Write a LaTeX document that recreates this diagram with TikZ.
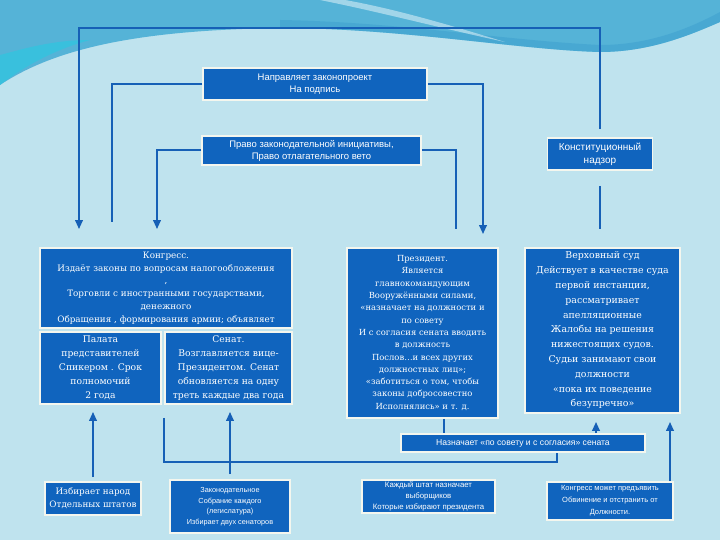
\documentclass[tikz,border=0pt]{standalone}
\usepackage{fontspec}
\setmainfont{DejaVu Serif}
\newfontfamily\sansf{Liberation Sans}
\usetikzlibrary{arrows.meta}
\definecolor{bgc}{HTML}{BFE3EE}
\definecolor{wavec}{HTML}{55B3D7}
\definecolor{wavedk}{HTML}{3C9FCF}
\definecolor{cyanc}{HTML}{33C4DF}
\definecolor{boxc}{HTML}{1064BE}
\definecolor{linec}{HTML}{1660B6}
\definecolor{edgec}{HTML}{F4F6EE}
\tikzset{
  box/.style={fill=boxc, draw=edgec, line width=1.8pt, text=white, align=center, inner sep=0pt},
  conn/.style={draw=linec, line width=2pt},
  arr/.style={conn, -{Triangle[length=9pt,width=7.5pt]}},
}
\newcommand{\fs}[2]{\fontsize{#1}{#2}\selectfont}
\begin{document}
\begin{tikzpicture}[x=1pt,y=-1pt]
\useasboundingbox (0,0) rectangle (720,540);
% background
\fill[bgc] (0,0) rectangle (720,540);
\fill[wavec] (0,0) -- (0,85) .. controls (60,45) and (150,30) .. (280,28)
  .. controls (400,28) and (520,50) .. (600,52)
  .. controls (650,52) and (690,35) .. (720,22) -- (720,0) -- cycle;
\fill[cyanc, opacity=0.8] (0,85) .. controls (30,62) and (60,48) .. (90,40)
  .. controls (50,40) and (20,50) .. (0,55) -- cycle;
\fill[wavedk, opacity=0.5] (280,20) .. controls (400,22) and (500,40) .. (600,45)
  .. controls (650,45) and (690,28) .. (720,12) -- (720,22)
  .. controls (690,35) and (650,52) .. (600,52)
  .. controls (520,50) and (400,28) .. (280,28) -- cycle;
\fill[white, opacity=0.45] (320,0) .. controls (380,12) and (440,28) .. (505,42)
  .. controls (440,22) and (390,8) .. (345,0) -- cycle;

% nodes
\node[box, minimum width=224pt, minimum height=32pt, font=\sansf\fs{9.5}{12}] (b1) at (315,84)
  {Направляет законопроект\\На подпись};
\node[box, minimum width=219pt, minimum height=29pt, font=\sansf\fs{9.5}{12}] (b2) at (311.5,150.5)
  {Право законодательной инициативы,\\Право отлагательного вето};
\node[box, minimum width=105pt, minimum height=32pt, font=\sansf\fs{10}{13}] (nadzor) at (600,154)
  {Конституционный\\надзор};
\node[box, minimum width=252pt, minimum height=80pt, font=\fs{8.8}{12.8}] (congress) at (166,288)
  {Конгресс.\\Издаёт законы по вопросам налогообложения\\,\\Торговли с иностранными государствами,\\денежного\\Обращения , формирования армии; объявляет};
\node[box, minimum width=121pt, minimum height=72pt, font=\fs{9.2}{14}] (palata) at (100.5,368)
  {Палата\\представителей\\Спикером . Срок\\полномочий\\2 года};
\node[box, minimum width=127pt, minimum height=72pt, font=\fs{9.2}{14}] (senate) at (228.5,368)
  {Сенат.\\Возглавляется вице-\\Президентом. Сенат\\обновляется на одну\\треть каждые два года};
\node[box, minimum width=151pt, minimum height=170pt, font=\fs{8.4}{12.3}] (president) at (422.5,333)
  {Президент.\\Является\\главнокомандующим\\Вооружёнными силами,\\«назначает на должности и\\по совету\\И с согласия сената вводить\\в должность\\Послов…и всех других\\должностных лиц»;\\«заботиться о том, чтобы\\законы добросовестно\\Исполнялись» и т. д.};
\node[box, minimum width=155pt, minimum height=165pt, font=\fs{9.4}{14.8}] (supreme) at (602.5,330.5)
  {Верховный суд\\Действует в качестве суда\\первой инстанции,\\рассматривает\\апелляционные\\Жалобы на решения\\нижестоящих судов.\\Судьи занимают свои\\должности\\«пока их поведение\\безупречно»};
\node[box, minimum width=244pt, minimum height=18pt, font=\sansf\fs{8.6}{10}] (naznach) at (523,443)
  {Назначает «по совету и с согласия» сената};
\node[box, minimum width=96pt, minimum height=33pt, font=\fs{8.8}{13}] (izb) at (93,498.5)
  {Избирает народ\\Отдельных штатов};
\node[box, minimum width=120pt, minimum height=53pt, font=\sansf\fs{7.3}{10.5}] (zakon) at (230,506.5)
  {Законодательное\\Собрание каждого\\(легислатура)\\Избирает двух сенаторов};
\node[box, minimum width=133pt, minimum height=33pt, font=\sansf\fs{7.8}{11}] (shtat) at (428.5,496.5)
  {Каждый штат назначает\\выборщиков\\Которые избирают президента};
\node[box, minimum width=126pt, minimum height=38pt, font=\sansf\fs{7.5}{12}] (kongr2) at (610,501)
  {Конгресс может предъявить\\Обвинение и отстранить от\\Должности.};

% helper coordinates
\coordinate (tl) at (79,28);
\coordinate (xL1) at (112,0);
\coordinate (xL2) at (157,0);
\coordinate (xR2) at (456,0);
\coordinate (xR1) at (483,0);
\coordinate (xm) at (163.5,0);
\coordinate (ym) at (0,462);
\coordinate (xn) at (557,0);
\coordinate (xp) at (444,0);
\coordinate (xs1) at (596,0);
\coordinate (xs2) at (670,0);

% connectors
\draw[arr, shorten <=8pt, shorten >=18pt] (nadzor.north) |- (tl) -- (tl |- congress.north);
\draw[conn, shorten <=15pt, shorten >=18pt] (nadzor.south) -- (nadzor.south |- supreme.north);
\draw[conn, shorten >=25pt] (b1.west) -| (xL1 |- congress.north);
\draw[arr, shorten >=13pt] (b1.east) -| (xR1 |- president.north);
\draw[arr, shorten >=18pt] (b2.west) -| (xL2 |- congress.north);
\draw[conn, shorten >=18pt] (b2.east) -| (xR2 |- president.north);
\draw[arr, shorten <=4pt, shorten >=7pt] (izb.north) -- (izb.north |- palata.south);
\draw[arr, shorten <=5pt, shorten >=7pt] (zakon.north) -- (zakon.north |- senate.south);
\draw[conn, shorten <=13pt] (xm |- palata.south) -- (xm |- ym) -| (xn |- naznach.south);
\draw[conn] (xp |- president.south) -- (xp |- naznach.north);
\draw[arr, shorten >=8pt] (xs1 |- naznach.north) -- (xs1 |- supreme.south);
\draw[arr, shorten >=8pt] (xs2 |- kongr2.north) -- (xs2 |- supreme.south);
\end{tikzpicture}
\end{document}
